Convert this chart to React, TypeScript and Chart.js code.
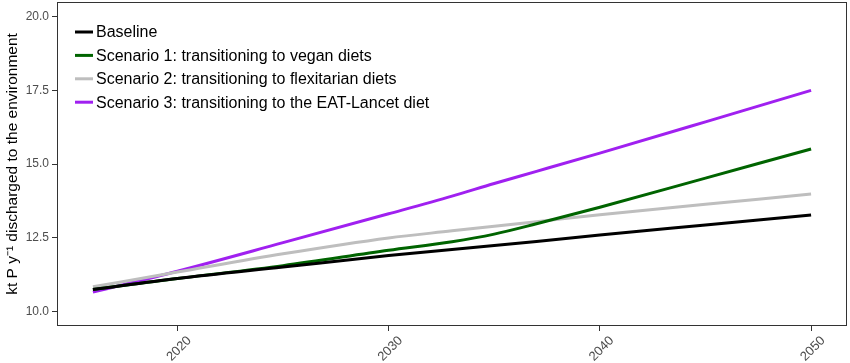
import React, { useEffect, useRef } from "react";
import { Chart, registerables } from "chart.js";

Chart.register(...registerables);

// ---- data ----
const years = [2016, 2020, 2025, 2030, 2033, 2035, 2037, 2040, 2045, 2050];
const baseline = [10.74, 11.11, 11.5, 11.89, 12.1, 12.23, 12.37, 12.59, 12.93, 13.27];
const scenario1 = [10.74, 11.11, 11.55, 12.07, 12.36, 12.62, 12.97, 13.53, 14.52, 15.51];
const scenario2 = [10.83, 11.33, 11.95, 12.49, 12.73, 12.89, 13.04, 13.28, 13.63, 13.98];
const scenario3 = [10.65, 11.36, 12.33, 13.31, 13.91, 14.34, 14.75, 15.37, 16.43, 17.5];
const seriesNames = [
  "Baseline",
  "Scenario 1: transitioning to vegan diets",
  "Scenario 2: transitioning to flexitarian diets",
  "Scenario 3: transitioning to the EAT-Lancet diet",
];
const seriesColors = ["#000000", "#006400", "#bebebe", "#a020f0"];
const xTicks = [2020, 2030, 2040, 2050];
const yTicks = [10, 12.5, 15, 17.5, 20];
const yTitle = "kt P y\u207B\u00B9 discharged to the environment";

const FONT = '"Liberation Sans", Arial, Helvetica, sans-serif';

const frameAndLegend = {
  id: "frameAndLegend",
  afterDatasetsDraw(chart: any) {
    const { ctx, chartArea: a } = chart;
    ctx.save();
    ctx.strokeStyle = "#333333";
    ctx.lineWidth = 1;
    ctx.strokeRect(a.left + 0.5, a.top + 0.5, a.right - a.left - 1, a.bottom - a.top - 1);
    ctx.font = `16px ${FONT}`;
    ctx.textBaseline = "middle";
    ctx.textAlign = "left";
    chart.data.datasets.forEach((ds: any, i: number) => {
      const y = a.top + 30 + i * 23.4;
      ctx.strokeStyle = ds.borderColor;
      ctx.lineWidth = 3;
      ctx.beginPath();
      ctx.moveTo(a.left + 18, y);
      ctx.lineTo(a.left + 36, y);
      ctx.stroke();
      ctx.fillStyle = "#000000";
      ctx.fillText(ds.label, a.left + 39, y + 1);
    });
    ctx.restore();
  },
};

export default function App() {
  const ref = useRef<HTMLCanvasElement | null>(null);

  useEffect(() => {
    if (!ref.current) return;
    const series = [baseline, scenario1, scenario2, scenario3];
    const chart = new Chart(ref.current, {
      type: "line",
      data: {
        datasets: series.map((vals, i) => ({
          label: seriesNames[i],
          data: years.map((yr, j) => ({ x: yr, y: vals[j] })),
          borderColor: seriesColors[i],
          backgroundColor: seriesColors[i],
          borderWidth: 3,
          pointRadius: 0,
          cubicInterpolationMode: "monotone" as const,
          fill: false,
        })),
      },
      options: {
        responsive: false,
        animation: false,
        layout: { padding: { top: 2, right: 3, left: 0, bottom: 0 } },
        plugins: {
          legend: { display: false },
          tooltip: { enabled: false },
        },
        scales: {
          x: {
            type: "linear",
            min: 2014.3,
            max: 2051.7,
            afterBuildTicks: (s: any) => {
              s.ticks = xTicks.map((v) => ({ value: v }));
            },
            afterFit: (s: any) => {
              s.height = 37;
              s.paddingLeft = 0;
              s.paddingRight = 0;
            },
            grid: {
              display: true,
              drawOnChartArea: false,
              drawTicks: true,
              tickLength: 5,
              color: "#333333",
            },
            border: { display: false },
            ticks: {
              minRotation: 45,
              maxRotation: 45,
              padding: 2,
              labelOffset: 12,
              color: "#4d4d4d",
              font: { family: FONT, size: 13 },
              callback: (v: any) => String(v),
            },
          },
          y: {
            type: "linear",
            min: 9.5,
            max: 20.5,
            afterBuildTicks: (s: any) => {
              s.ticks = yTicks.map((v) => ({ value: v }));
            },
            afterFit: (s: any) => {
              s.width = 57;
              s.paddingTop = 0;
              s.paddingBottom = 0;
            },
            grid: {
              display: true,
              drawOnChartArea: false,
              drawTicks: true,
              tickLength: 5,
              color: "#333333",
            },
            border: { display: false },
            ticks: {
              padding: 3,
              color: "#4d4d4d",
              font: { family: FONT, size: 12 },
              callback: (v: any) => Number(v).toFixed(1),
            },
            title: {
              display: true,
              text: yTitle,
              color: "#000000",
              font: { family: FONT, size: 15.5 },
              padding: { top: 3, bottom: 0 },
            },
          },
        },
      },
      plugins: [frameAndLegend],
    });
    return () => chart.destroy();
  }, []);

  return (
    <div style={{ position: "absolute", left: 0, top: 0, width: 850, height: 363, background: "#ffffff" }}>
      <canvas ref={ref} width={850} height={363} style={{ display: "block" }} />
    </div>
  );
}
